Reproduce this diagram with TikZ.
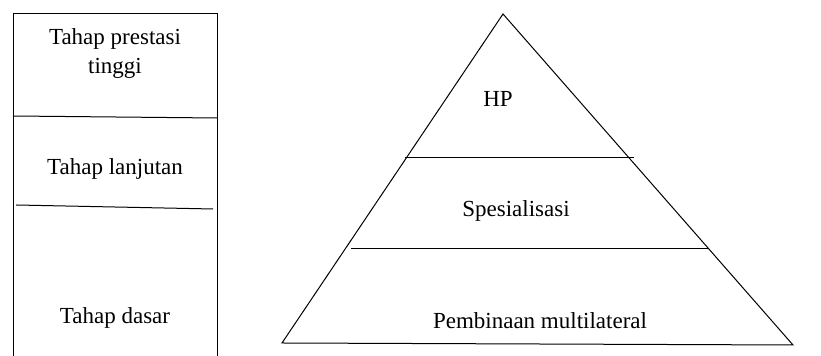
\documentclass[tikz,border=0pt]{standalone}
\usepackage{fontspec}
\setmainfont{Liberation Serif}
\usepackage{tikz}
\tikzstyle{stage} = [line width=0.5pt, black]
\tikzstyle{label} = [text centered, align=center, anchor=center, inner sep=0pt,
font=\fontsize{11.5}{14.5}\selectfont]

\begin{document}
\begin{tikzpicture}[x=0.5pt, y=-0.5pt]
      \useasboundingbox (0,0) rectangle (821,356);

      % left column
      \coordinate (tl) at (13,14);
      \coordinate (tr) at (217,14);
      \coordinate (bl) at (13,356);
      \coordinate (br) at (217,356);
      \draw [stage] (bl) -- (tl) -- (tr) -- (br);
      \draw [stage] (13,116) -- (217,118);
      \draw [stage] (16,205) -- (213,209);

      \node (0) [label] at (115,54) {Tahap prestasi\\tinggi};
      \node (1) [label] at (115,169) {Tahap lanjutan};
      \node (2) [label] at (115,318) {Tahap dasar};

      % pyramid
      \coordinate (apex) at (503,14);
      \coordinate (left) at (282,343);
      \coordinate (right) at (793,345);
      \draw [stage] (left) -- (apex) -- (right) -- cycle;
      \draw [stage] (405,158) -- (634,158);
      \draw [stage] (351,249) -- (709,249);

      \node (3) [label] at (498,99) {HP};
      \node (4) [label] at (516,211) {Spesialisasi};
      \node (5) [label] at (540,321) {Pembinaan multilateral};
    \end{tikzpicture}
\end{document}
